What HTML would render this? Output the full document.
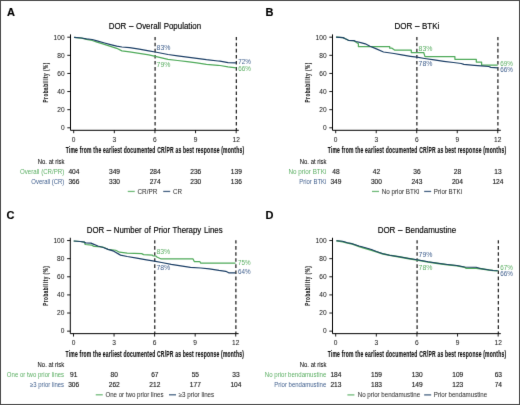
<!DOCTYPE html>
<html><head><meta charset="utf-8"><style>
html,body{margin:0;padding:0;background:#fff;}
body{width:520px;height:405px;overflow:hidden;}
svg{display:block;font-family:"Liberation Sans", sans-serif;will-change:transform;-webkit-font-smoothing:antialiased;}
</style></head><body>
<svg width="520" height="405" viewBox="0 0 520 405">
<defs><filter id="soft" filterUnits="userSpaceOnUse" x="0" y="0" width="520" height="405" color-interpolation-filters="sRGB"><feConvolveMatrix order="3" kernelMatrix="0 1 0 1 10 1 0 1 0" divisor="14.0" edgeMode="duplicate"/></filter></defs>
<g filter="url(#soft)">
<rect x="0" y="0" width="520" height="405" fill="#fff"/>
<rect x="0.5" y="0.5" width="519" height="404" fill="#fff" stroke="#4a4a4a" stroke-width="1"/>
<g transform="translate(0 0)"><text x="6.9" y="15.8" font-size="11.0" font-weight="bold" fill="#000" stroke="#000" stroke-width="0.17">A</text><text x="154.9" y="29.2" font-size="8.7" text-anchor="middle" fill="#000" textLength="92.3" lengthAdjust="spacingAndGlyphs" word-spacing="0.5" stroke="#000" stroke-width="0.15">DOR – Overall Population</text><path d="M70.5 34.4V130.3H238.8" fill="none" stroke="#000" stroke-width="1"/><text x="64.6" y="130.15" font-size="6.6" text-anchor="end" fill="#222" stroke="#222" stroke-width="0.05">0</text><text x="64.6" y="112.03" font-size="6.6" text-anchor="end" fill="#222" stroke="#222" stroke-width="0.05">20</text><text x="64.6" y="93.91" font-size="6.6" text-anchor="end" fill="#222" stroke="#222" stroke-width="0.05">40</text><text x="64.6" y="75.79" font-size="6.6" text-anchor="end" fill="#222" stroke="#222" stroke-width="0.05">60</text><text x="64.6" y="57.67" font-size="6.6" text-anchor="end" fill="#222" stroke="#222" stroke-width="0.05">80</text><text x="64.6" y="39.55" font-size="6.6" text-anchor="end" fill="#222" stroke="#222" stroke-width="0.05">100</text><text x="73.7" y="141.9" font-size="6.6" text-anchor="middle" fill="#222" stroke="#222" stroke-width="0.05">0</text><text x="114.32" y="141.9" font-size="6.6" text-anchor="middle" fill="#222" stroke="#222" stroke-width="0.05">3</text><text x="154.94" y="141.9" font-size="6.6" text-anchor="middle" fill="#222" stroke="#222" stroke-width="0.05">6</text><text x="195.56" y="141.9" font-size="6.6" text-anchor="middle" fill="#222" stroke="#222" stroke-width="0.05">9</text><text x="236.18" y="141.9" font-size="6.6" text-anchor="middle" fill="#222" stroke="#222" stroke-width="0.05">12</text><path d="M67.3 127.8H70.5 M67.3 109.68H70.5 M67.3 91.56H70.5 M67.3 73.44H70.5 M67.3 55.32H70.5 M67.3 37.2H70.5 M73.7 130.3V133.2 M114.32 130.3V133.2 M154.94 130.3V133.2 M195.56 130.3V133.2 M236.18 130.3V133.2" stroke="#000" stroke-width="0.9"/><path d="M155.09 37.0V130.3" stroke="#1a1a1a" stroke-width="1.2" stroke-dasharray="3.6 2.5" stroke-dashoffset="0.4"/><path d="M236.33 37.0V130.3" stroke="#1a1a1a" stroke-width="1.2" stroke-dasharray="3.6 2.5" stroke-dashoffset="0.4"/><text x="65.7" y="153.25" font-size="8.4" font-weight="bold" fill="#111" textLength="178.6" lengthAdjust="spacingAndGlyphs" letter-spacing="0.35" stroke="#111" stroke-width="0.15">Time from the earliest documented CR/PR as best response (months)</text><text transform="translate(47.7 82.4) rotate(-90)" font-size="7.8" font-weight="bold" text-anchor="middle" fill="#222" stroke="#222" stroke-width="0.12" letter-spacing="0.9" textLength="40.2" lengthAdjust="spacingAndGlyphs">Probability (%)</text><text x="156.6" y="49.9" font-size="6.7" fill="#41608e" textLength="13.9" lengthAdjust="spacingAndGlyphs">83%</text><text x="156.6" y="66.5" font-size="6.7" fill="#5aae62" textLength="13.9" lengthAdjust="spacingAndGlyphs">79%</text><text x="238.3" y="64" font-size="6.7" fill="#41608e" textLength="12.6" lengthAdjust="spacingAndGlyphs">72%</text><text x="238.3" y="71.3" font-size="6.7" fill="#5aae62" textLength="12.6" lengthAdjust="spacingAndGlyphs">66%</text><text x="64.4" y="163.7" font-size="6.3" text-anchor="end" fill="#111" textLength="26.6" lengthAdjust="spacingAndGlyphs" stroke="#111" stroke-width="0.07">No. at risk</text><text x="64.3" y="173.7" font-size="6.5" text-anchor="end" fill="#5aae62" textLength="44.3" lengthAdjust="spacingAndGlyphs">Overall (CR/PR)</text><text x="73.9" y="173.7" font-size="6.6" text-anchor="middle" fill="#222" stroke="#222" stroke-width="0.15">404</text><text x="114.52" y="173.7" font-size="6.6" text-anchor="middle" fill="#222" stroke="#222" stroke-width="0.15">349</text><text x="155.14" y="173.7" font-size="6.6" text-anchor="middle" fill="#222" stroke="#222" stroke-width="0.15">284</text><text x="195.76" y="173.7" font-size="6.6" text-anchor="middle" fill="#222" stroke="#222" stroke-width="0.15">236</text><text x="236.38" y="173.7" font-size="6.6" text-anchor="middle" fill="#222" stroke="#222" stroke-width="0.15">139</text><text x="64.3" y="183.8" font-size="6.5" text-anchor="end" fill="#41608e" textLength="33" lengthAdjust="spacingAndGlyphs">Overall (CR)</text><text x="73.9" y="183.8" font-size="6.6" text-anchor="middle" fill="#222" stroke="#222" stroke-width="0.15">366</text><text x="114.52" y="183.8" font-size="6.6" text-anchor="middle" fill="#222" stroke="#222" stroke-width="0.15">330</text><text x="155.14" y="183.8" font-size="6.6" text-anchor="middle" fill="#222" stroke="#222" stroke-width="0.15">274</text><text x="195.76" y="183.8" font-size="6.6" text-anchor="middle" fill="#222" stroke="#222" stroke-width="0.15">230</text><text x="236.38" y="183.8" font-size="6.6" text-anchor="middle" fill="#222" stroke="#222" stroke-width="0.15">136</text><path d="M127.75 191.45H134.75" stroke="#4faa5a" stroke-width="1.3" stroke-opacity="0.8"/><text x="137.45" y="193.85" font-size="6.3" fill="#333" textLength="19.8" lengthAdjust="spacingAndGlyphs" stroke="#333" stroke-width="0.05">CR/PR</text><path d="M163.2 191.45H170.2" stroke="#1c3f66" stroke-width="1.3" stroke-opacity="0.8"/><text x="172.9" y="193.85" font-size="6.3" fill="#333" textLength="9" lengthAdjust="spacingAndGlyphs" stroke="#333" stroke-width="0.05">CR</text></g>
<path d="M74.1 37.3 L81.6 38.2 L86.4 39.3 L92.2 40.5 L97 42.2 L102.8 43.8 L110.5 46.3 L116.7 48.3 L121.9 50.9 L129.6 51.9 L139.2 53.3 L148.8 54.8 L155.2 56.3 L168 59.3 L177.6 60.5 L187.2 61.7 L196.8 62.9 L206.4 64.3 L218 65.3 L220 65.5 L228 66.9 L236.2 67.9" fill="none" stroke="#4faa5a" stroke-width="1.25" stroke-linejoin="round"/>
<path d="M74.1 37.3 L81.6 38 L86.4 38.8 L92.2 39.5 L97 40.8 L104.6 43 L110.5 44.6 L116.7 46.2 L121.9 47 L129.6 47.7 L139.2 49.1 L148.8 50.9 L155.2 52 L168 54.5 L177.6 55.9 L187.2 57.1 L196.8 58.4 L206.4 59.7 L218 61 L220 61.1 L228 62.6 L236.2 62.9" fill="none" stroke="#1c3f66" stroke-width="1.25" stroke-linejoin="round"/>
<g transform="translate(262.0 0)"><text x="3.4" y="15.8" font-size="11.0" font-weight="bold" fill="#000" stroke="#000" stroke-width="0.17">B</text><text x="154.9" y="29.2" font-size="8.7" text-anchor="middle" fill="#000" textLength="45" lengthAdjust="spacingAndGlyphs" word-spacing="0.5" stroke="#000" stroke-width="0.15">DOR – BTKi</text><path d="M70.5 34.4V130.3H238.8" fill="none" stroke="#000" stroke-width="1"/><text x="64.6" y="130.15" font-size="6.6" text-anchor="end" fill="#222" stroke="#222" stroke-width="0.05">0</text><text x="64.6" y="112.03" font-size="6.6" text-anchor="end" fill="#222" stroke="#222" stroke-width="0.05">20</text><text x="64.6" y="93.91" font-size="6.6" text-anchor="end" fill="#222" stroke="#222" stroke-width="0.05">40</text><text x="64.6" y="75.79" font-size="6.6" text-anchor="end" fill="#222" stroke="#222" stroke-width="0.05">60</text><text x="64.6" y="57.67" font-size="6.6" text-anchor="end" fill="#222" stroke="#222" stroke-width="0.05">80</text><text x="64.6" y="39.55" font-size="6.6" text-anchor="end" fill="#222" stroke="#222" stroke-width="0.05">100</text><text x="73.7" y="141.9" font-size="6.6" text-anchor="middle" fill="#222" stroke="#222" stroke-width="0.05">0</text><text x="114.22" y="141.9" font-size="6.6" text-anchor="middle" fill="#222" stroke="#222" stroke-width="0.05">3</text><text x="154.73" y="141.9" font-size="6.6" text-anchor="middle" fill="#222" stroke="#222" stroke-width="0.05">6</text><text x="195.25" y="141.9" font-size="6.6" text-anchor="middle" fill="#222" stroke="#222" stroke-width="0.05">9</text><text x="235.76" y="141.9" font-size="6.6" text-anchor="middle" fill="#222" stroke="#222" stroke-width="0.05">12</text><path d="M67.3 127.8H70.5 M67.3 109.68H70.5 M67.3 91.56H70.5 M67.3 73.44H70.5 M67.3 55.32H70.5 M67.3 37.2H70.5 M73.7 130.3V133.2 M114.22 130.3V133.2 M154.73 130.3V133.2 M195.25 130.3V133.2 M235.76 130.3V133.2" stroke="#000" stroke-width="0.9"/><path d="M154.88 37.0V130.3" stroke="#1a1a1a" stroke-width="1.2" stroke-dasharray="3.6 2.5" stroke-dashoffset="0.4"/><path d="M235.91 37.0V130.3" stroke="#1a1a1a" stroke-width="1.2" stroke-dasharray="3.6 2.5" stroke-dashoffset="0.4"/><text x="65.7" y="153.25" font-size="8.4" font-weight="bold" fill="#111" textLength="178.6" lengthAdjust="spacingAndGlyphs" letter-spacing="0.35" stroke="#111" stroke-width="0.15">Time from the earliest documented CR/PR as best response (months)</text><text transform="translate(47.7 82.4) rotate(-90)" font-size="7.8" font-weight="bold" text-anchor="middle" fill="#222" stroke="#222" stroke-width="0.12" letter-spacing="0.9" textLength="40.2" lengthAdjust="spacingAndGlyphs">Probability (%)</text><text x="156.6" y="51.3" font-size="6.7" fill="#5aae62" textLength="13.9" lengthAdjust="spacingAndGlyphs">83%</text><text x="156.6" y="66.1" font-size="6.7" fill="#41608e" textLength="13.9" lengthAdjust="spacingAndGlyphs">78%</text><text x="238.3" y="66.1" font-size="6.7" fill="#5aae62" textLength="12.6" lengthAdjust="spacingAndGlyphs">69%</text><text x="238.3" y="72.1" font-size="6.7" fill="#41608e" textLength="12.6" lengthAdjust="spacingAndGlyphs">66%</text><text x="64.4" y="163.7" font-size="6.3" text-anchor="end" fill="#111" textLength="26.6" lengthAdjust="spacingAndGlyphs" stroke="#111" stroke-width="0.07">No. at risk</text><text x="64.3" y="173.7" font-size="6.5" text-anchor="end" fill="#5aae62" textLength="37.8" lengthAdjust="spacingAndGlyphs">No prior BTKi</text><text x="73.9" y="173.7" font-size="6.6" text-anchor="middle" fill="#222" stroke="#222" stroke-width="0.15">48</text><text x="114.42" y="173.7" font-size="6.6" text-anchor="middle" fill="#222" stroke="#222" stroke-width="0.15">42</text><text x="154.93" y="173.7" font-size="6.6" text-anchor="middle" fill="#222" stroke="#222" stroke-width="0.15">36</text><text x="195.44" y="173.7" font-size="6.6" text-anchor="middle" fill="#222" stroke="#222" stroke-width="0.15">28</text><text x="235.96" y="173.7" font-size="6.6" text-anchor="middle" fill="#222" stroke="#222" stroke-width="0.15">13</text><text x="64.3" y="183.8" font-size="6.5" text-anchor="end" fill="#41608e" textLength="27" lengthAdjust="spacingAndGlyphs">Prior BTKi</text><text x="73.9" y="183.8" font-size="6.6" text-anchor="middle" fill="#222" stroke="#222" stroke-width="0.15">349</text><text x="114.42" y="183.8" font-size="6.6" text-anchor="middle" fill="#222" stroke="#222" stroke-width="0.15">300</text><text x="154.93" y="183.8" font-size="6.6" text-anchor="middle" fill="#222" stroke="#222" stroke-width="0.15">243</text><text x="195.44" y="183.8" font-size="6.6" text-anchor="middle" fill="#222" stroke="#222" stroke-width="0.15">204</text><text x="235.96" y="183.8" font-size="6.6" text-anchor="middle" fill="#222" stroke="#222" stroke-width="0.15">124</text><path d="M110 191.45H117" stroke="#4faa5a" stroke-width="1.3" stroke-opacity="0.8"/><text x="119.7" y="193.85" font-size="6.3" fill="#333" textLength="37.8" lengthAdjust="spacingAndGlyphs" stroke="#333" stroke-width="0.05">No prior BTKi</text><path d="M162.15 191.45H169.15" stroke="#1c3f66" stroke-width="1.3" stroke-opacity="0.8"/><text x="171.85" y="193.85" font-size="6.3" fill="#333" textLength="28.2" lengthAdjust="spacingAndGlyphs" stroke="#333" stroke-width="0.05">Prior BTKi</text></g>
<path d="M336.1 37.2 L343 37.6 L345.3 38.8 L348.4 40.3 L353.8 40.7 L355 41.5 L358.4 43.8 L358.4 46.6 L389.7 46.6 L389.7 48.2 L392 48.2 L394.5 50.1 L411.3 50.1 L411.3 52.5 L423.7 52.5 L425 56.6 L454.9 56.6 L454.9 59.3 L476.3 59.3 L476.3 62 L481.6 62 L481.6 65.1 L497.7 65.1" fill="none" stroke="#4faa5a" stroke-width="1.25" stroke-linejoin="round"/>
<path d="M336.1 37.2 L343 37.6 L345.3 38.8 L348.4 40.3 L353.8 40.7 L356.1 41.5 L360.7 42.6 L365.3 43.8 L370 46.25 L375.8 48.7 L383.5 52 L394 53.5 L401.7 54.9 L410.4 56.3 L416.8 57.2 L424.6 58.5 L434.2 59.9 L443.8 61.3 L453.5 62.5 L461.2 63.5 L463.8 64.4 L474.4 65.4 L481.2 65.9 L488.8 66.5 L490.8 67.3 L497.7 67.8" fill="none" stroke="#1c3f66" stroke-width="1.25" stroke-linejoin="round"/>
<g transform="translate(-0.2 203.35)"><text x="6.6" y="15.8" font-size="11.0" font-weight="bold" fill="#000" stroke="#000" stroke-width="0.17">C</text><text x="154.9" y="29.2" font-size="8.7" text-anchor="middle" fill="#000" textLength="135.9" lengthAdjust="spacingAndGlyphs" word-spacing="0.5" stroke="#000" stroke-width="0.15">DOR – Number of Prior Therapy Lines</text><path d="M70.5 34.4V130.3H238.8" fill="none" stroke="#000" stroke-width="1"/><text x="64.6" y="130.15" font-size="6.6" text-anchor="end" fill="#222" stroke="#222" stroke-width="0.05">0</text><text x="64.6" y="112.03" font-size="6.6" text-anchor="end" fill="#222" stroke="#222" stroke-width="0.05">20</text><text x="64.6" y="93.91" font-size="6.6" text-anchor="end" fill="#222" stroke="#222" stroke-width="0.05">40</text><text x="64.6" y="75.79" font-size="6.6" text-anchor="end" fill="#222" stroke="#222" stroke-width="0.05">60</text><text x="64.6" y="57.67" font-size="6.6" text-anchor="end" fill="#222" stroke="#222" stroke-width="0.05">80</text><text x="64.6" y="39.55" font-size="6.6" text-anchor="end" fill="#222" stroke="#222" stroke-width="0.05">100</text><text x="73.7" y="141.9" font-size="6.6" text-anchor="middle" fill="#222" stroke="#222" stroke-width="0.05">0</text><text x="114.26" y="141.9" font-size="6.6" text-anchor="middle" fill="#222" stroke="#222" stroke-width="0.05">3</text><text x="154.82" y="141.9" font-size="6.6" text-anchor="middle" fill="#222" stroke="#222" stroke-width="0.05">6</text><text x="195.38" y="141.9" font-size="6.6" text-anchor="middle" fill="#222" stroke="#222" stroke-width="0.05">9</text><text x="235.94" y="141.9" font-size="6.6" text-anchor="middle" fill="#222" stroke="#222" stroke-width="0.05">12</text><path d="M67.3 127.8H70.5 M67.3 109.68H70.5 M67.3 91.56H70.5 M67.3 73.44H70.5 M67.3 55.32H70.5 M67.3 37.2H70.5 M73.7 130.3V133.2 M114.26 130.3V133.2 M154.82 130.3V133.2 M195.38 130.3V133.2 M235.94 130.3V133.2" stroke="#000" stroke-width="0.9"/><path d="M154.97 37.0V130.3" stroke="#1a1a1a" stroke-width="1.2" stroke-dasharray="3.6 2.5" stroke-dashoffset="0.4"/><path d="M236.09 37.0V130.3" stroke="#1a1a1a" stroke-width="1.2" stroke-dasharray="3.6 2.5" stroke-dashoffset="0.4"/><text x="65.7" y="153.25" font-size="8.4" font-weight="bold" fill="#111" textLength="178.6" lengthAdjust="spacingAndGlyphs" letter-spacing="0.35" stroke="#111" stroke-width="0.15">Time from the earliest documented CR/PR as best response (months)</text><text transform="translate(47.7 82.4) rotate(-90)" font-size="7.8" font-weight="bold" text-anchor="middle" fill="#222" stroke="#222" stroke-width="0.12" letter-spacing="0.9" textLength="40.2" lengthAdjust="spacingAndGlyphs">Probability (%)</text><text x="156.6" y="50.7" font-size="6.7" fill="#5aae62" textLength="13.9" lengthAdjust="spacingAndGlyphs">83%</text><text x="156.6" y="66.6" font-size="6.7" fill="#41608e" textLength="13.9" lengthAdjust="spacingAndGlyphs">78%</text><text x="238.3" y="61.3" font-size="6.7" fill="#5aae62" textLength="12.6" lengthAdjust="spacingAndGlyphs">75%</text><text x="238.3" y="70.8" font-size="6.7" fill="#41608e" textLength="12.6" lengthAdjust="spacingAndGlyphs">64%</text><text x="64.4" y="163.7" font-size="6.3" text-anchor="end" fill="#111" textLength="26.6" lengthAdjust="spacingAndGlyphs" stroke="#111" stroke-width="0.07">No. at risk</text><text x="64.3" y="173.7" font-size="6.5" text-anchor="end" fill="#5aae62" textLength="57.25" lengthAdjust="spacingAndGlyphs">One or two prior lines</text><text x="73.9" y="173.7" font-size="6.6" text-anchor="middle" fill="#222" stroke="#222" stroke-width="0.15">91</text><text x="114.46" y="173.7" font-size="6.6" text-anchor="middle" fill="#222" stroke="#222" stroke-width="0.15">80</text><text x="155.02" y="173.7" font-size="6.6" text-anchor="middle" fill="#222" stroke="#222" stroke-width="0.15">67</text><text x="195.58" y="173.7" font-size="6.6" text-anchor="middle" fill="#222" stroke="#222" stroke-width="0.15">55</text><text x="236.14" y="173.7" font-size="6.6" text-anchor="middle" fill="#222" stroke="#222" stroke-width="0.15">33</text><text x="64.3" y="183.8" font-size="6.5" text-anchor="end" fill="#41608e" textLength="34" lengthAdjust="spacingAndGlyphs">≥3 prior lines</text><text x="73.9" y="183.8" font-size="6.6" text-anchor="middle" fill="#222" stroke="#222" stroke-width="0.15">306</text><text x="114.46" y="183.8" font-size="6.6" text-anchor="middle" fill="#222" stroke="#222" stroke-width="0.15">262</text><text x="155.02" y="183.8" font-size="6.6" text-anchor="middle" fill="#222" stroke="#222" stroke-width="0.15">212</text><text x="195.58" y="183.8" font-size="6.6" text-anchor="middle" fill="#222" stroke="#222" stroke-width="0.15">177</text><text x="236.14" y="183.8" font-size="6.6" text-anchor="middle" fill="#222" stroke="#222" stroke-width="0.15">104</text><path d="M95.95 191.45H102.95" stroke="#4faa5a" stroke-width="1.3" stroke-opacity="0.8"/><text x="105.65" y="193.85" font-size="6.3" fill="#333" textLength="58.1" lengthAdjust="spacingAndGlyphs" stroke="#333" stroke-width="0.05">One or two prior lines</text><path d="M169.2 191.45H176.2" stroke="#1c3f66" stroke-width="1.3" stroke-opacity="0.8"/><text x="178.9" y="193.85" font-size="6.3" fill="#333" textLength="35.5" lengthAdjust="spacingAndGlyphs" stroke="#333" stroke-width="0.05">≥3 prior lines</text></g>
<path d="M73.7 241 L80.2 241.5 L84.5 242.2 L85.2 244.5 L91.8 245.2 L94 246.4 L97.9 246.6 L103.3 247.2 L108 249.3 L115.7 250.25 L119.5 252.2 L127.2 253.1 L141.7 253.6 L143.6 254.6 L152.2 255.1 L153.2 255.9 L155.8 256 L157.3 257.2 L160.7 258.8 L192.9 258.8 L194.3 261.5 L199.8 261.5 L200.8 263.2 L235.5 263.2" fill="none" stroke="#4faa5a" stroke-width="1.25" stroke-linejoin="round"/>
<path d="M73.7 241 L80.2 241.5 L84.5 242.2 L85.6 242.9 L91 243.1 L93.3 244.1 L97.9 246 L103.3 247.5 L108 249.3 L113.8 251.2 L120.5 255.1 L127.2 256.5 L136.8 258.2 L146.5 259.9 L154.2 261.1 L161.6 262.5 L171.2 264.4 L180.8 265.9 L190.5 267.3 L200.8 268 L209.4 268.9 L219 270.4 L225.8 271.3 L228.7 272.8 L235.5 272.8" fill="none" stroke="#1c3f66" stroke-width="1.25" stroke-linejoin="round"/>
<g transform="translate(262.0 203.35)"><text x="3.5" y="15.8" font-size="11.0" font-weight="bold" fill="#000" stroke="#000" stroke-width="0.17">D</text><text x="154.9" y="29.2" font-size="8.7" text-anchor="middle" fill="#000" textLength="78.5" lengthAdjust="spacingAndGlyphs" word-spacing="0.5" stroke="#000" stroke-width="0.15">DOR – Bendamustine</text><path d="M70.5 34.4V130.3H238.8" fill="none" stroke="#000" stroke-width="1"/><text x="64.6" y="130.15" font-size="6.6" text-anchor="end" fill="#222" stroke="#222" stroke-width="0.05">0</text><text x="64.6" y="112.03" font-size="6.6" text-anchor="end" fill="#222" stroke="#222" stroke-width="0.05">20</text><text x="64.6" y="93.91" font-size="6.6" text-anchor="end" fill="#222" stroke="#222" stroke-width="0.05">40</text><text x="64.6" y="75.79" font-size="6.6" text-anchor="end" fill="#222" stroke="#222" stroke-width="0.05">60</text><text x="64.6" y="57.67" font-size="6.6" text-anchor="end" fill="#222" stroke="#222" stroke-width="0.05">80</text><text x="64.6" y="39.55" font-size="6.6" text-anchor="end" fill="#222" stroke="#222" stroke-width="0.05">100</text><text x="73.7" y="141.9" font-size="6.6" text-anchor="middle" fill="#222" stroke="#222" stroke-width="0.05">0</text><text x="114.32" y="141.9" font-size="6.6" text-anchor="middle" fill="#222" stroke="#222" stroke-width="0.05">3</text><text x="154.94" y="141.9" font-size="6.6" text-anchor="middle" fill="#222" stroke="#222" stroke-width="0.05">6</text><text x="195.56" y="141.9" font-size="6.6" text-anchor="middle" fill="#222" stroke="#222" stroke-width="0.05">9</text><text x="236.18" y="141.9" font-size="6.6" text-anchor="middle" fill="#222" stroke="#222" stroke-width="0.05">12</text><path d="M67.3 127.8H70.5 M67.3 109.68H70.5 M67.3 91.56H70.5 M67.3 73.44H70.5 M67.3 55.32H70.5 M67.3 37.2H70.5 M73.7 130.3V133.2 M114.32 130.3V133.2 M154.94 130.3V133.2 M195.56 130.3V133.2 M236.18 130.3V133.2" stroke="#000" stroke-width="0.9"/><path d="M155.09 37.0V130.3" stroke="#1a1a1a" stroke-width="1.2" stroke-dasharray="3.6 2.5" stroke-dashoffset="0.4"/><path d="M236.33 37.0V130.3" stroke="#1a1a1a" stroke-width="1.2" stroke-dasharray="3.6 2.5" stroke-dashoffset="0.4"/><text x="65.7" y="153.25" font-size="8.4" font-weight="bold" fill="#111" textLength="178.6" lengthAdjust="spacingAndGlyphs" letter-spacing="0.35" stroke="#111" stroke-width="0.15">Time from the earliest documented CR/PR as best response (months)</text><text transform="translate(47.7 82.4) rotate(-90)" font-size="7.8" font-weight="bold" text-anchor="middle" fill="#222" stroke="#222" stroke-width="0.12" letter-spacing="0.9" textLength="40.2" lengthAdjust="spacingAndGlyphs">Probability (%)</text><text x="156.6" y="54" font-size="6.7" fill="#41608e" textLength="13.9" lengthAdjust="spacingAndGlyphs">79%</text><text x="156.6" y="66.4" font-size="6.7" fill="#5aae62" textLength="13.9" lengthAdjust="spacingAndGlyphs">78%</text><text x="238.3" y="66.7" font-size="6.7" fill="#5aae62" textLength="12.6" lengthAdjust="spacingAndGlyphs">67%</text><text x="238.3" y="73.1" font-size="6.7" fill="#41608e" textLength="12.6" lengthAdjust="spacingAndGlyphs">66%</text><text x="64.4" y="163.7" font-size="6.3" text-anchor="end" fill="#111" textLength="26.6" lengthAdjust="spacingAndGlyphs" stroke="#111" stroke-width="0.07">No. at risk</text><text x="64.3" y="173.7" font-size="6.5" text-anchor="end" fill="#5aae62" textLength="61.5" lengthAdjust="spacingAndGlyphs">No prior bendamustine</text><text x="73.9" y="173.7" font-size="6.6" text-anchor="middle" fill="#222" stroke="#222" stroke-width="0.15">184</text><text x="114.52" y="173.7" font-size="6.6" text-anchor="middle" fill="#222" stroke="#222" stroke-width="0.15">159</text><text x="155.14" y="173.7" font-size="6.6" text-anchor="middle" fill="#222" stroke="#222" stroke-width="0.15">130</text><text x="195.76" y="173.7" font-size="6.6" text-anchor="middle" fill="#222" stroke="#222" stroke-width="0.15">109</text><text x="236.38" y="173.7" font-size="6.6" text-anchor="middle" fill="#222" stroke="#222" stroke-width="0.15">63</text><text x="64.3" y="183.8" font-size="6.5" text-anchor="end" fill="#41608e" textLength="52" lengthAdjust="spacingAndGlyphs">Prior bendamustine</text><text x="73.9" y="183.8" font-size="6.6" text-anchor="middle" fill="#222" stroke="#222" stroke-width="0.15">213</text><text x="114.52" y="183.8" font-size="6.6" text-anchor="middle" fill="#222" stroke="#222" stroke-width="0.15">183</text><text x="155.14" y="183.8" font-size="6.6" text-anchor="middle" fill="#222" stroke="#222" stroke-width="0.15">149</text><text x="195.76" y="183.8" font-size="6.6" text-anchor="middle" fill="#222" stroke="#222" stroke-width="0.15">123</text><text x="236.38" y="183.8" font-size="6.6" text-anchor="middle" fill="#222" stroke="#222" stroke-width="0.15">74</text><path d="M85.4 191.55H92.4" stroke="#4faa5a" stroke-width="1.3" stroke-opacity="0.8"/><text x="95.7" y="193.95" font-size="6.3" fill="#333" textLength="62.4" lengthAdjust="spacingAndGlyphs" stroke="#333" stroke-width="0.05">No prior bendamustine</text><path d="M162.15 191.55H169.15" stroke="#1c3f66" stroke-width="1.3" stroke-opacity="0.8"/><text x="171.85" y="193.95" font-size="6.3" fill="#333" textLength="53.3" lengthAdjust="spacingAndGlyphs" stroke="#333" stroke-width="0.05">Prior bendamustine</text></g>
<path d="M336.4 240.8 L342.6 241.8 L347.4 243 L352.2 243.9 L355.1 245 L359 246.4 L364.7 248.3 L371.5 250.2 L376.3 251.8 L383 253.9 L389.6 255.3 L399.2 256.9 L408.8 258.6 L417 260 L428 262 L437.6 263.4 L447.2 264.7 L456.8 265.8 L464.5 267.2 L466 268.2 L476.2 268.3 L480 268.6 L489.2 270 L493.1 270.5 L497.7 270.8" fill="none" stroke="#4faa5a" stroke-width="1.6" stroke-linejoin="round"/>
<path d="M336.4 240.8 L342.6 241.3 L347.4 242.8 L352.2 243.7 L355.1 244.7 L359 246.1 L364.7 247.6 L371.5 249.5 L376.3 251.4 L383 253.8 L389.6 255.2 L399.2 256.8 L408.8 258.4 L417 259.7 L428 261.8 L437.6 263.2 L447.2 264.5 L456.8 265.6 L464.5 266.9 L476.2 267.2 L480 268.4 L489.2 269.9 L493.1 270.5 L497.7 270.7" fill="none" stroke="#1c3f66" stroke-width="1.05" stroke-linejoin="round"/>
</g>
</svg>
</body></html>
